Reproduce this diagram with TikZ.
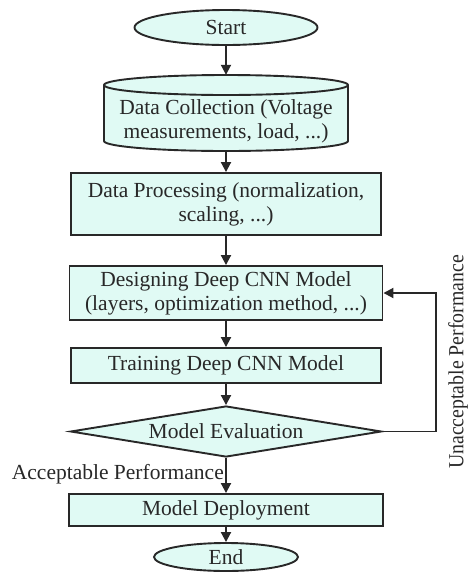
\documentclass[tikz,border=0pt]{standalone}
\usepackage{fontspec}
\setmainfont{Liberation Serif}
\usepackage{graphicx}
\usetikzlibrary{arrows.meta,shapes.geometric}
\definecolor{boxfill}{RGB}{224,250,244}
\definecolor{ink}{RGB}{40,40,40}
\begin{document}
\begin{tikzpicture}[x=1pt,y=-1pt,
  every node/.style={font=\fontsize{21.5}{24}\selectfont, text=ink},
  flowbox/.style={draw=ink, line width=1.9pt, fill=boxfill, rectangle, inner sep=0pt, align=center},
  terminal/.style={draw=ink, line width=1.9pt, fill=boxfill, ellipse, inner sep=0pt},
  decision/.style={draw=ink, line width=1.9pt, fill=boxfill, diamond, aspect=6, inner sep=0pt},
  flow/.style={draw=ink, line width=1.9pt, -{Triangle[width=10pt,length=10pt]}},
]
\useasboundingbox (0,0) rectangle (468,574);

% terminal: start
\node[terminal, minimum width=183pt, minimum height=35pt] (start) at (226,27.5) {Start};

% data store drawn as a cylinder; the empty node gives its anchors
\node[minimum width=244pt, minimum height=76pt, inner sep=0pt] (collect) at (226,113) {};
\filldraw[fill=boxfill, draw=ink, line width=1.9pt]
  (104,85) -- (104,141)
  arc[start angle=180, end angle=360, x radius=122pt, y radius=10pt]
  -- (348,85)
  arc[start angle=0, end angle=180, x radius=122pt, y radius=10pt] -- cycle;
\draw[ink, line width=1.9pt] (104,85)
  arc[start angle=180, end angle=360, x radius=122pt, y radius=10pt];
\node[align=center, inner sep=0pt] (collecttext) at (226,121)
  {Data Collection (Voltage\\measurements, load, ...)};

% processing steps
\node[flowbox, minimum width=310pt, minimum height=62pt] (proc) at (226,204)
  {Data Processing (normalization,\\scaling, ...)};
\node[flowbox, minimum width=313pt, minimum height=54pt] (design) at (226,293)
  {Designing Deep CNN Model\\(layers, optimization method, ...)};
\node[flowbox, minimum width=310pt, minimum height=35pt] (train) at (226,365.5)
  {Training Deep CNN Model};
\node[decision, minimum width=311pt, minimum height=51pt] (eval) at (226,431.5)
  {Model Evaluation};
\node[flowbox, minimum width=314pt, minimum height=32pt] (deploy) at (226,510)
  {Model Deployment};
\node[terminal, minimum width=144pt, minimum height=28pt] (end) at (226,557) {End};

% main flow
\draw[flow] (start) -- (collect);
\draw[flow] (collect) -- (proc);
\draw[flow] (proc) -- (design);
\draw[flow] (design) -- (train);
\draw[flow] (train) -- (eval);
\draw[flow] (eval) -- (deploy);
\draw[flow] (deploy) -- (end);

% feedback loop back to the design step
\coordinate (loop) at (436,293);
\draw[flow] (eval.east) -| (loop) -- (design.east);

% branch labels
\node[anchor=east, inner sep=0pt] (acc) at (224,474) {Acceptable Performance};
\node[rotate=90, inner sep=0pt] (unacc) at (458,362)
  {\scalebox{0.92}[1]{Unacceptable Performance}};
\end{tikzpicture}
\end{document}
